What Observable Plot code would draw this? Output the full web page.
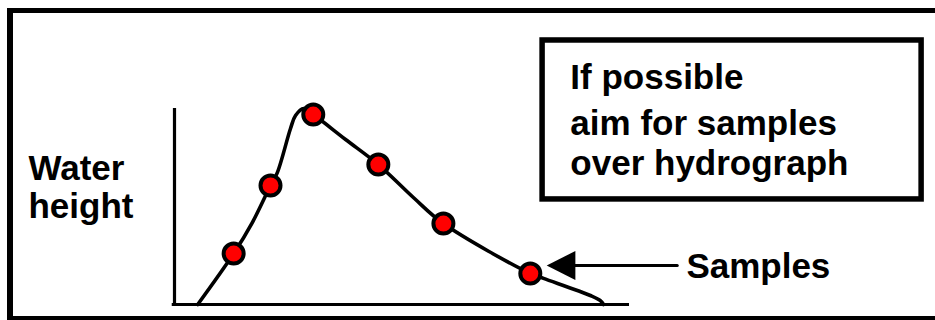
<!DOCTYPE html>
<html>
<head>
<meta charset="utf-8">
<script src="https://cdn.jsdelivr.net/npm/d3@7"></script>
<script src="https://cdn.jsdelivr.net/npm/@observablehq/plot@0.6"></script>
<style>
  html, body { margin: 0; padding: 0; background: #fff; }
  #wrap { position: relative; width: 935px; height: 320px; overflow: hidden; }
  #frame { position: absolute; left: 7px; top: 8px; width: 928px; height: 312px; box-sizing: border-box;
           border-left: 6px solid #000; border-top: 5px solid #000; border-bottom: 4px solid #000; pointer-events: none; }
  #chart { position: absolute; left: 0; top: 0; }
</style>
</head>
<body>
<div id="wrap"><div id="chart"></div><div id="frame"></div></div>
<script>
// Hydrograph curve (time, water height) in arbitrary units
const curveTime   = [0.51, 1.30, 1.71, 2.11, 2.26, 2.55, 2.66, 2.84, 3.05, 3.76, 4.48, 5.25, 5.91, 7.82, 8.11, 9.14, 9.36, 9.43];
const curveHeight = [0.00, 2.60, 4.18, 6.07, 6.73, 8.98, 9.64, 10.00, 9.69, 8.42, 7.14, 5.46, 4.13, 1.58, 1.33, 0.46, 0.20, 0.00];

// Sample points taken over the hydrograph
const sampleTime   = [1.30, 2.11, 3.05, 4.48, 5.91, 7.82];
const sampleHeight = [2.60, 6.07, 9.69, 7.14, 4.13, 1.58];

// Annotation texts
const axisLabelLines = ["Water", "height"];
const noteLines = ["If possible", "aim for samples", "over hydrograph"];
const arrowLabel = "Samples";

const curve = curveTime.map((t, i) => ({t, h: curveHeight[i]}));
const samples = sampleTime.map((t, i) => ({t, h: sampleHeight[i]}));

const labelH = [6.33, 4.39];
const noteH = [10.97, 8.67, 6.63];
const texts = [
  ...axisLabelLines.map((s, i) => ({text: s, t: -3.21, h: labelH[i]})),
  ...noteLines.map((s, i) => ({text: s, t: 8.70, h: noteH[i]})),
  {text: arrowLabel, t: 11.25, h: 1.33}
];

// Arrow pointing to the last sample
const arrowY = 1.99;
const shaft = [{t: 8.81, h: arrowY}, {t: 11.05, h: arrowY}];
const head = [{t: 8.18, h: arrowY}, {t: 8.81, h: arrowY + 0.74}, {t: 8.81, h: arrowY - 0.74}, {t: 8.18, h: arrowY}];

// Note box
const box = [{t1: 8.09, t2: 16.42, h1: 5.36, h2: 13.47}];

const font = "'Liberation Sans', Arial, Helvetica, sans-serif";

const plot = Plot.plot({
  width: 935,
  height: 320,
  margin: 0,
  style: {background: "transparent", overflow: "visible"},
  x: {domain: [0, 10], range: [174, 629], axis: null},
  y: {domain: [0, 10], range: [304, 108], axis: null},
  marks: [
    Plot.ruleX([0], {y1: 0, y2: 10, stroke: "#000", strokeWidth: 3.2}),
    Plot.ruleY([0], {x1: -0.05, x2: 10, stroke: "#000", strokeWidth: 3.2}),
    Plot.line(curve, {x: "t", y: "h", curve: "catmull-rom", stroke: "#000", strokeWidth: 3.6}),
    Plot.dot(samples, {x: "t", y: "h", r: 10, fill: "#ff0000", stroke: "#000", strokeWidth: 4}),
    Plot.rect(box, {x1: "t1", x2: "t2", y1: "h1", y2: "h2", fill: "none", stroke: "#000", strokeWidth: 5.5}),
    Plot.line(shaft, {x: "t", y: "h", stroke: "#000", strokeWidth: 3}),
    Plot.line(head, {x: "t", y: "h", stroke: "none", fill: "#000"}),
    Plot.text(texts, {x: "t", y: "h", text: "text", textAnchor: "start", lineAnchor: "bottom",
      fontSize: 35, fontWeight: "bold", fontFamily: font, fill: "#000"})
  ]
});
document.getElementById("chart").appendChild(plot);
</script>
</body>
</html>
